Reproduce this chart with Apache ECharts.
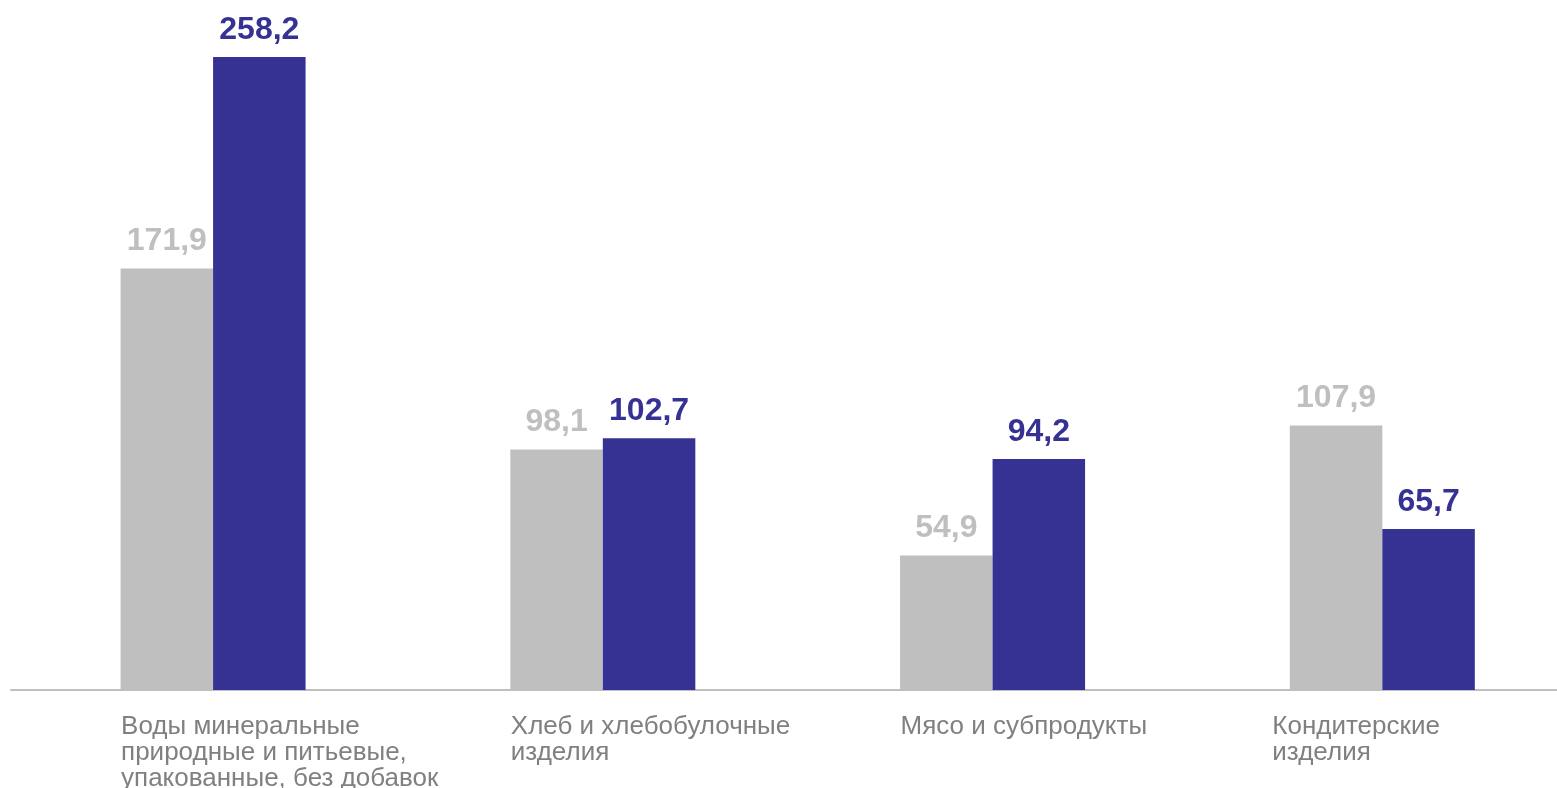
<!DOCTYPE html>
<html><head><meta charset="utf-8">
<script src="https://cdn.jsdelivr.net/npm/echarts@6/dist/echarts.min.js"></script>
<style>html,body{margin:0;padding:0;background:#fff}#c{width:1557px;height:788px}</style>
</head><body><div id="c"></div>
<script>
const categories = [
  "Воды минеральные\nприродные и питьевые,\nупакованные, без добавок",
  "Хлеб и хлебобулочные\nизделия",
  "Мясо и субпродукты",
  "Кондитерские\nизделия"
];
const seriesGrey = [171.9, 98.1, 54.9, 107.9];
const seriesBlue = [258.2, 102.7, 94.2, 65.7];

const FONT = '"Liberation Sans", Arial, sans-serif';
const fmt = p => String(p.value.toFixed(1)).replace('.', ',');
const labelStyle = {align: 'left', color: '#808080', fontFamily: FONT, fontSize: 26, lineHeight: 26};
// the last category label sits a little further left in the reference
const categoryItems = categories.map((c, i) =>
  i === categories.length - 1
    ? {value: c, textStyle: Object.assign({}, labelStyle, {padding: [0, 0, 0, -110]})}
    : c);

const chart = echarts.init(document.getElementById('c'), null, {renderer: 'canvas'});
chart.setOption({
  animation: false,
  backgroundColor: '#fff',
  grid: [
    {left: 18.2, right: -20.2, top: 3.6, bottom: 98, containLabel: false, outerBoundsMode: 'none'},
    {left: 11, right: 0, top: 3.6, bottom: 98, containLabel: false, outerBoundsMode: 'none'}
  ],
  xAxis: [
    {
      type: 'category', gridIndex: 0, data: categoryItems,
      axisLine: {show: false}, axisTick: {show: false},
      axisLabel: Object.assign({interval: 0, margin: 24, padding: [0, 0, 0, -92]}, labelStyle)
    },
    {
      type: 'value', gridIndex: 1, min: 0, max: 1,
      axisLine: {show: true, lineStyle: {color: '#BFBFBF', width: 2}},
      axisTick: {show: false}, axisLabel: {show: false}, splitLine: {show: false}
    }
  ],
  yAxis: [
    {type: 'value', gridIndex: 0, min: 0, max: 280, show: false, splitLine: {show: false}},
    {type: 'value', gridIndex: 1, min: 0, max: 1, show: false, splitLine: {show: false}}
  ],
  series: [
    {
      type: 'bar', xAxisIndex: 0, yAxisIndex: 0, data: seriesGrey,
      barWidth: 92.5, barGap: '0%',
      itemStyle: {color: '#BFBFBF'},
      label: {show: true, position: 'top', distance: 11, formatter: fmt,
        color: '#BFBFBF', fontFamily: FONT, fontSize: 32, fontWeight: 'bold'}
    },
    {
      type: 'bar', xAxisIndex: 0, yAxisIndex: 0, data: seriesBlue,
      barWidth: 92.5, barGap: '0%',
      itemStyle: {color: '#363294'},
      label: {show: true, position: 'top', distance: 11, formatter: fmt,
        color: '#363294', fontFamily: FONT, fontSize: 32, fontWeight: 'bold'}
    }
  ]
});
</script></body></html>
